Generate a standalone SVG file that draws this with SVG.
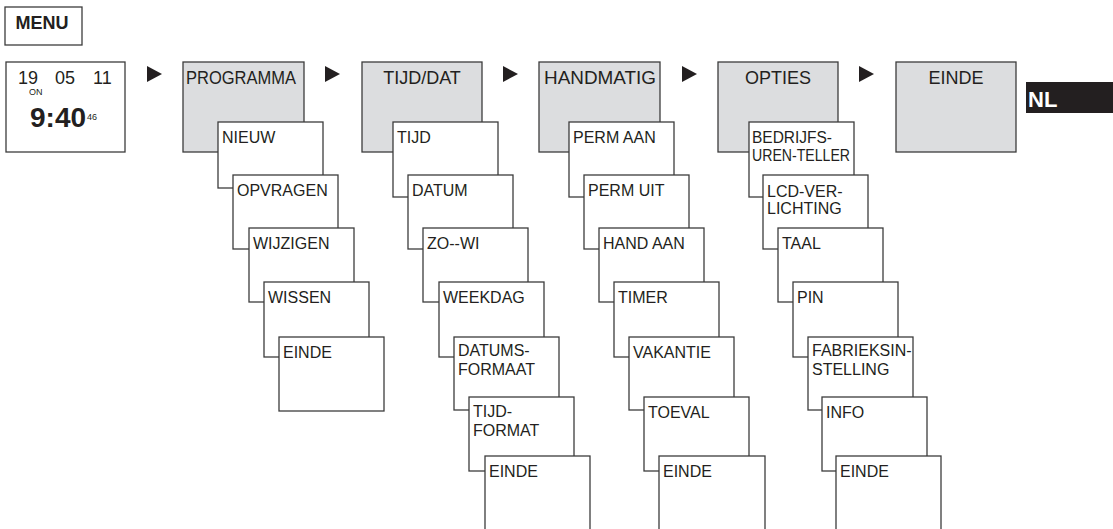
<svg xmlns="http://www.w3.org/2000/svg" width="1113" height="529" viewBox="0 0 1113 529">
<style>
text{font-family:"Liberation Sans",Arial,sans-serif;fill:#231f20}
.box{fill:#fff;stroke:#3c3c3c;stroke-width:1.3}
.hdr{fill:#dcdddf;stroke:#3c3c3c;stroke-width:1.3}
.h{font-size:18px;text-anchor:middle}
.t{font-size:16px}
.arr{fill:#231f20}
</style>
<rect width="1113" height="529" fill="#fff"/>
<g id="menu"><rect class="box" x="5" y="7" width="77" height="38"/><text x="42" y="29" font-size="18" font-weight="bold" text-anchor="middle">MENU</text></g>
<g id="clock"><rect class="box" x="6" y="62" width="119" height="90"/>
<text x="18" y="84" font-size="18">19</text><text x="55" y="84" font-size="18">05</text><text x="93" y="84" font-size="18">11</text>
<text x="29" y="95" font-size="9">ON</text>
<text x="30" y="127" font-size="28" font-weight="bold">9:40</text><text x="87" y="120" font-size="9">46</text></g>
<g id="connectors">
<polygon class="arr" points="147,66 162,74 147,82"/>
<polygon class="arr" points="325,66 340,74 325,82"/>
<polygon class="arr" points="503,66 518,74 503,82"/>
<polygon class="arr" points="682,66 697,74 682,82"/>
<polygon class="arr" points="859,66 874,74 859,82"/>
</g>
<g id="programma"><rect class="hdr" x="183" y="62" width="121" height="90"/><text class="h" x="241" y="84" textLength="110" lengthAdjust="spacingAndGlyphs">PROGRAMMA</text></g>
<g id="p-nieuw"><rect class="box" x="218" y="122" width="105" height="66"/><text class="t" x="222" y="143">NIEUW</text></g>
<g id="p-opvragen"><rect class="box" x="233" y="175" width="105" height="74"/><text class="t" x="237" y="196">OPVRAGEN</text></g>
<g id="p-wijzigen"><rect class="box" x="249" y="228" width="105" height="74"/><text class="t" x="253" y="249">WIJZIGEN</text></g>
<g id="p-wissen"><rect class="box" x="264" y="282" width="105" height="75"/><text class="t" x="268" y="303">WISSEN</text></g>
<g id="p-einde"><rect class="box" x="279" y="337" width="105" height="74"/><text class="t" x="283" y="358">EINDE</text></g>
<g id="tijddat"><rect class="hdr" x="362" y="62" width="120" height="90"/><text class="h" x="422" y="84">TIJD/DAT</text></g>
<g id="t-tijd"><rect class="box" x="393" y="122" width="105" height="75"/><text class="t" x="397" y="143">TIJD</text></g>
<g id="t-datum"><rect class="box" x="408" y="175" width="105" height="74"/><text class="t" x="412" y="196">DATUM</text></g>
<g id="t-zowi"><rect class="box" x="423" y="228" width="105" height="74"/><text class="t" x="427" y="249">ZO--WI</text></g>
<g id="t-weekdag"><rect class="box" x="439" y="282" width="105" height="75"/><text class="t" x="443" y="303">WEEKDAG</text></g>
<g id="t-datumsformaat"><rect class="box" x="454" y="337" width="105" height="73"/><text class="t" x="458" y="356">DATUMS-</text><text class="t" x="458" y="375">FORMAAT</text></g>
<g id="t-tijdformat"><rect class="box" x="469" y="397" width="105" height="74"/><text class="t" x="473" y="417">TIJD-</text><text class="t" x="473" y="436">FORMAT</text></g>
<g id="t-einde"><rect class="box" x="485" y="456" width="105" height="80"/><text class="t" x="489" y="477">EINDE</text></g>
<g id="handmatig"><rect class="hdr" x="539" y="62" width="121" height="90"/><text class="h" x="600" y="84" textLength="112" lengthAdjust="spacingAndGlyphs">HANDMATIG</text></g>
<g id="h-permaan"><rect class="box" x="569" y="122" width="105" height="75"/><text class="t" x="573" y="143">PERM AAN</text></g>
<g id="h-permuit"><rect class="box" x="584" y="175" width="105" height="74"/><text class="t" x="588" y="196">PERM UIT</text></g>
<g id="h-handaan"><rect class="box" x="599" y="228" width="105" height="74"/><text class="t" x="603" y="249">HAND AAN</text></g>
<g id="h-timer"><rect class="box" x="614" y="282" width="105" height="75"/><text class="t" x="618" y="303">TIMER</text></g>
<g id="h-vakantie"><rect class="box" x="629" y="337" width="105" height="73"/><text class="t" x="633" y="358">VAKANTIE</text></g>
<g id="h-toeval"><rect class="box" x="644" y="397" width="105" height="74"/><text class="t" x="648" y="418">TOEVAL</text></g>
<g id="h-einde"><rect class="box" x="659" y="456" width="106" height="80"/><text class="t" x="663" y="477">EINDE</text></g>
<g id="opties"><rect class="hdr" x="718" y="62" width="120" height="90"/><text class="h" x="778" y="84">OPTIES</text></g>
<g id="o-bedrijfs"><rect class="box" x="749" y="122" width="105" height="75"/><text class="t" x="752" y="143" textLength="80" lengthAdjust="spacingAndGlyphs">BEDRIJFS-</text><text class="t" x="752" y="161" textLength="98" lengthAdjust="spacingAndGlyphs">UREN-TELLER</text></g>
<g id="o-lcd"><rect class="box" x="763" y="175" width="105" height="74"/><text class="t" x="767" y="197">LCD-VER-</text><text class="t" x="767" y="214">LICHTING</text></g>
<g id="o-taal"><rect class="box" x="778" y="228" width="105" height="74"/><text class="t" x="782" y="249">TAAL</text></g>
<g id="o-pin"><rect class="box" x="793" y="282" width="105" height="75"/><text class="t" x="797" y="303">PIN</text></g>
<g id="o-fabrieks"><rect class="box" x="808" y="337" width="105" height="73"/><text class="t" x="812" y="356">FABRIEKSIN-</text><text class="t" x="812" y="375">STELLING</text></g>
<g id="o-info"><rect class="box" x="822" y="397" width="105" height="74"/><text class="t" x="826" y="418">INFO</text></g>
<g id="o-einde"><rect class="box" x="836" y="456" width="105" height="80"/><text class="t" x="840" y="477">EINDE</text></g>
<g id="einde"><rect class="hdr" x="896" y="62" width="120" height="90"/><text class="h" x="956" y="84">EINDE</text></g>
<g id="nl"><rect x="1026" y="82" width="87" height="31" fill="#231f20"/><text x="1028" y="107" font-size="22" font-weight="bold" style="fill:#fff">NL</text></g>
</svg>
